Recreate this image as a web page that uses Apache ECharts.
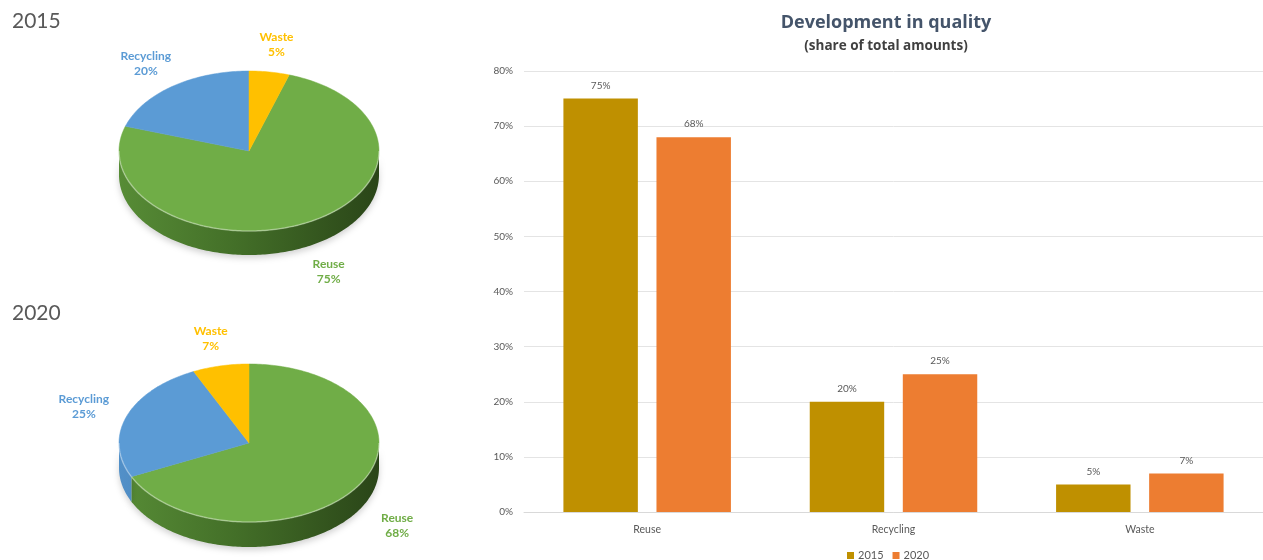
<!DOCTYPE html>
<html>
<head>
<meta charset="utf-8">
<script src="https://cdn.jsdelivr.net/npm/echarts@6/dist/echarts.min.js"></script>
<style>html,body{margin:0;padding:0;background:#fff}#c{width:1263px;height:560px}</style>
</head>
<body>
<div id="c"></div>
<script>
const categories = ['Reuse', 'Recycling', 'Waste'];
const seriesNames = ['2015', '2020'];
const values2015 = [75, 20, 5];
const values2020 = [68, 25, 7];
const yMax = 80;
const yInterval = 10;

const FONT = 'Lato';
const topColors = { Reuse: '#70ad47', Recycling: '#5b9bd5', Waste: '#ffc000' };
const sideStops = {
  Reuse: ['#578c36', '#436f28', '#2a4518'],
  Recycling: ['#5290c8', '#3f76a8', '#2d5678'],
  Waste: ['#d9a300', '#b88a00', '#8a6700']
};
const labelColors = { Reuse: '#70ad47', Recycling: '#5b9bd5', Waste: '#ffc000' };

function makePieRender(vals, cfg) {
  const total = vals.reduce((s, v) => s + v, 0);
  function pt(phi, k, dy) {
    const r = phi * Math.PI / 180;
    return [cfg.cx + k * cfg.rx * Math.sin(r), cfg.cy - k * cfg.ry * Math.cos(r) + (dy || 0)];
  }
  return function (params, api) {
    const i = params.dataIndex;
    let before = 0;
    for (let k = 0; k < i; k++) before += vals[k];
    const a = cfg.start + before / total * 360;
    const b = a + api.value(0) / total * 360;
    const name = categories[i];
    const children = [];
    [[90, 270], [450, 630]].forEach(([f0, f1]) => {
      const lo = Math.max(a, f0), hi = Math.min(b, f1);
      if (hi > lo) {
        const pts = [];
        for (let p = lo; p <= hi; p += 1) pts.push(pt(p, 1, 0));
        pts.push(pt(hi, 1, 0));
        const bottom = [];
        for (let p = lo; p <= hi; p += 1) bottom.push(pt(p, 1, cfg.depth));
        bottom.push(pt(hi, 1, cfg.depth));
        const st = sideStops[name];
        children.push({
          type: 'polygon',
          z2: 1,
          shape: { points: pts.concat(bottom.reverse()) },
          style: {
            fill: {
              type: 'linear', x: cfg.cx - cfg.rx, y: 0, x2: cfg.cx + cfg.rx, y2: 0, global: true,
              colorStops: [{ offset: 0, color: st[0] }, { offset: 0.45, color: st[1] }, { offset: 1, color: st[2] }]
            },
            shadowColor: 'rgba(0,0,0,0.18)', shadowBlur: 6, shadowOffsetY: 3
          }
        });
        children.push({
          type: 'polyline',
          z2: 3,
          shape: { points: pts },
          style: { stroke: 'rgba(255,255,255,0.35)', lineWidth: 1.5, fill: null }
        });
      }
    });
    const topPts = [[cfg.cx, cfg.cy]];
    for (let p = a; p <= b; p += 1) topPts.push(pt(p, 1, 0));
    topPts.push(pt(b, 1, 0));
    children.push({
      type: 'polygon',
      z2: 2,
      shape: { points: topPts },
      style: { fill: topColors[name], stroke: topColors[name], lineWidth: 0.5 }
    });
    const mid = (a + b) / 2;
    const midN = ((mid % 360) + 360) % 360;
    const front = midN > 90 && midN < 270;
    const lp = pt(mid, 1.35, front ? cfg.depth : 0);
    children.push({
      type: 'text',
      z2: 5,
      x: lp[0], y: lp[1],
      style: {
        text: name + '\n' + api.value(0) + '%',
        fill: labelColors[name],
        font: 'bold 12px ' + FONT,
        align: 'center', verticalAlign: 'middle', lineHeight: 15
      }
    });
    return { type: 'group', children };
  };
}

const chart = echarts.init(document.getElementById('c'));
const option = {
  animation: false,
  backgroundColor: '#ffffff',
  textStyle: { fontFamily: FONT },
  title: [
    { text: '2015', left: 7, top: 6, textStyle: { fontSize: 21, fontWeight: 'normal', color: '#595959', fontFamily: FONT } },
    { text: '2020', left: 7, top: 298, textStyle: { fontSize: 21, fontWeight: 'normal', color: '#595959', fontFamily: FONT } },
    {
      text: 'Development in quality',
      subtext: '(share of total amounts)',
      left: 881, top: 9, textAlign: 'center', itemGap: 7,
      textStyle: { fontSize: 18, fontWeight: 'bold', color: '#44546a', fontFamily: 'Open Sans' },
      subtextStyle: { fontSize: 13.5, fontWeight: 'bold', color: '#404040', fontFamily: 'Open Sans' }
    }
  ],
  legend: {
    data: seriesNames,
    left: 842, top: 545,
    icon: 'rect', itemWidth: 7, itemHeight: 7, itemGap: 9,
    textStyle: { fontSize: 11, color: '#595959', fontFamily: FONT, padding: [0, 0, 0, -1] }
  },
  grid: { left: 524, top: 71, width: 741, height: 441, containLabel: false },
  xAxis: {
    type: 'category',
    data: categories,
    axisLine: { lineStyle: { color: '#d9d9d9' } },
    axisTick: { show: false },
    axisLabel: { fontSize: 10.5, color: '#595959', margin: 12, fontFamily: FONT }
  },
  yAxis: {
    type: 'value', min: 0, max: yMax, interval: yInterval,
    axisLine: { show: false }, axisTick: { show: false },
    splitLine: { lineStyle: { color: '#e4e4e4' } },
    axisLabel: { fontSize: 10, color: '#595959', margin: 11, formatter: '{value}%', fontFamily: FONT }
  },
  series: [
    {
      name: seriesNames[0], type: 'bar', data: values2015,
      itemStyle: { color: '#bf9000' }, barGap: '25%', barCategoryGap: '32%',
      label: { show: true, position: 'top', distance: 8, fontSize: 10, color: '#595959', formatter: '{c}%' }
    },
    {
      name: seriesNames[1], type: 'bar', data: values2020,
      itemStyle: { color: '#ed7d31' }, barGap: '25%', barCategoryGap: '32%',
      label: { show: true, position: 'top', distance: 8, fontSize: 10, color: '#595959', formatter: '{c}%' }
    },
    {
      name: 'pie2015', type: 'custom', coordinateSystem: 'none',
      data: values2015.map((v, i) => ({ value: v, name: categories[i] })),
      renderItem: makePieRender(values2015, { cx: 249, cy: 151, rx: 130, ry: 80, depth: 24, start: 18 })
    },
    {
      name: 'pie2020', type: 'custom', coordinateSystem: 'none',
      data: values2020.map((v, i) => ({ value: v, name: categories[i] })),
      renderItem: makePieRender(values2020, { cx: 249, cy: 443, rx: 130, ry: 79, depth: 25, start: 0 })
    }
  ]
};
chart.setOption(option);
</script>
</body>
</html>
